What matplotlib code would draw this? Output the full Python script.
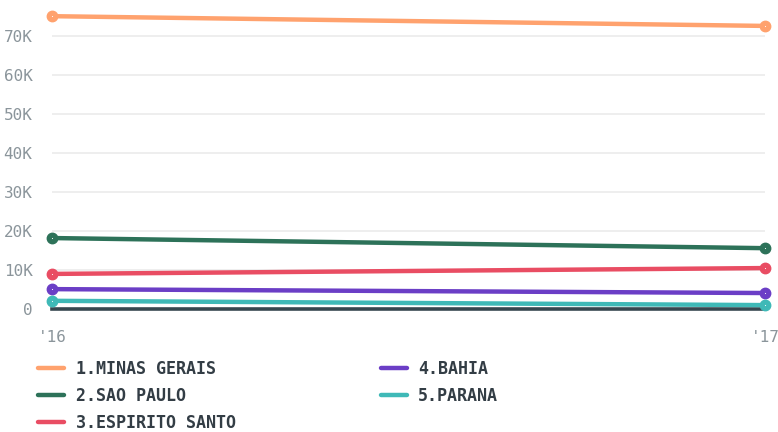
import matplotlib.pyplot as plt
from matplotlib.ticker import FuncFormatter

# values
years = [2016, 2017]
year_labels = ["'16", "'17"]
states = ["1.MINAS GERAIS", "2.SAO PAULO", "3.ESPIRITO SANTO", "4.BAHIA", "5.PARANA"]
minas = [75100, 72600]
sao_paulo = [18200, 15600]
espirito = [9000, 10500]
bahia = [5100, 4100]
parana = [2100, 1000]
colors = ["#ffa26e", "#2d7259", "#e94d63", "#6b3ec6", "#3fb9b7"]

series = [minas, sao_paulo, espirito, bahia, parana]

fig = plt.figure(figsize=(7.78, 4.32), dpi=100)
ax = fig.add_axes([0.0668, 0.2847, 0.9165, 0.695])

ax.axhline(0, color="#37474f", lw=2.6, zorder=2, clip_on=False)

for name, vals, col in zip(states, series, colors):
    ax.plot(years, vals, color=col, lw=3.2, marker="o", ms=7.5,
            solid_capstyle="round", label=name, clip_on=False, zorder=3)
    ax.plot(years, vals, ls="none", marker="o", ms=0.8, color="white",
            mew=0, clip_on=False, zorder=4)

ax.set_xlim(2016, 2017)
ax.set_ylim(0, 77000)
ax.set_xticks(years)
ax.set_xticklabels(year_labels)
ax.set_yticks(range(0, 70001, 10000))
ax.yaxis.set_major_formatter(FuncFormatter(lambda v, p: "0" if v == 0 else f"{int(v/1000)}K"))
ax.grid(axis="y", color="#ebebeb", lw=1.2)
ax.set_axisbelow(True)
for s in ax.spines.values():
    s.set_visible(False)
ax.tick_params(length=0, labelsize=11.5, labelcolor="#8b959b")
ax.tick_params(axis="y", pad=14)
ax.tick_params(axis="x", pad=15)
for lab in ax.get_xticklabels() + ax.get_yticklabels():
    lab.set_family("DejaVu Sans Mono")

leg = fig.legend(loc="upper left", bbox_to_anchor=(0.030, 0.201), ncol=2,
                 frameon=False, columnspacing=8.7, handlelength=1.55,
                 handletextpad=0.7, labelspacing=0.52,
                 prop={"family": "DejaVu Sans Mono", "weight": "bold", "size": 12})
for t in leg.get_texts():
    t.set_color("#333d45")
for h in leg.legend_handles:
    h.set_marker("")
    h.set_linewidth(3.2)

fig.savefig("out.png", dpi=100)
